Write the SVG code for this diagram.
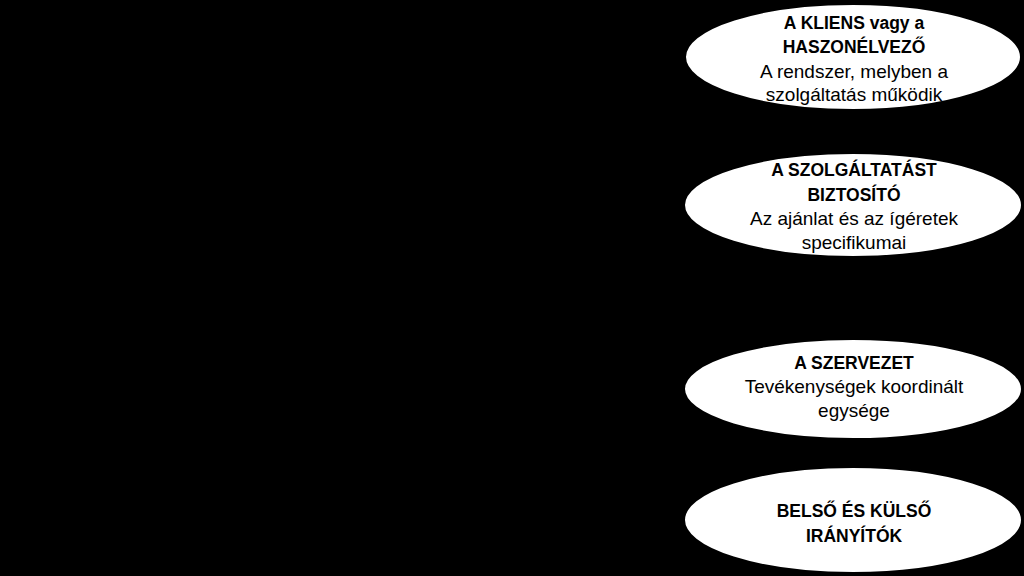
<svg xmlns="http://www.w3.org/2000/svg" width="1024" height="576" viewBox="0 0 1024 576">
<style>
.node ellipse{fill:#ffffff;stroke:#000000;stroke-width:2}
text{font-family:"Liberation Sans",Arial,sans-serif;font-size:19px;fill:#000000;text-anchor:middle}
.b{font-weight:bold;font-size:17.5px}
</style>
<rect x="0" y="0" width="1024" height="576" fill="#000000"/>
<g id="connectors"></g>
<g id="node-kliens" class="node">
<ellipse cx="853" cy="57" rx="168" ry="53"/>
<text x="854" y="29" class="b">A KLIENS vagy a</text>
<text x="854" y="53" class="b">HASZONÉLVEZŐ</text>
<text x="854" y="78">A rendszer, melyben a</text>
<text x="854" y="101">szolgáltatás működik</text>
</g>
<g id="node-szolgaltato" class="node">
<ellipse cx="853" cy="205" rx="169" ry="52"/>
<text x="854" y="176" class="b">A SZOLGÁLTATÁST</text>
<text x="854" y="201" class="b">BIZTOSÍTÓ</text>
<text x="854" y="225">Az ajánlat és az ígéretek</text>
<text x="854" y="249">specifikumai</text>
</g>
<g id="node-szervezet" class="node">
<ellipse cx="853" cy="389" rx="169" ry="50"/>
<text x="854" y="369" class="b">A SZERVEZET</text>
<text x="854" y="393">Tevékenységek koordinált</text>
<text x="854" y="417">egysége</text>
</g>
<g id="node-iranyitok" class="node">
<ellipse cx="853" cy="520" rx="169" ry="53"/>
<text x="854" y="517" class="b">BELSŐ ÉS KÜLSŐ</text>
<text x="854" y="542" class="b">IRÁNYÍTÓK</text>
</g>
</svg>
